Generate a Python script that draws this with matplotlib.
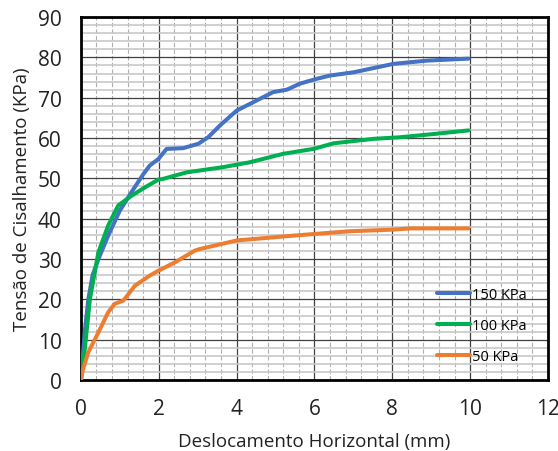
import matplotlib
matplotlib.use("Agg")
import matplotlib.pyplot as plt
from matplotlib.ticker import MultipleLocator

# curvas tensao x deslocamento
x150 = [0, 0.1, 0.19, 0.3, 0.45, 0.7, 1.0, 1.3, 1.6, 1.77, 1.99, 2.2, 2.63, 3.02, 3.27, 3.57, 4.0,
        4.43, 4.94, 5.29, 5.63, 6.06, 6.4, 7.0, 8.03, 8.89, 9.96]
y150 = [0, 12, 20, 26, 30, 35.8, 42, 46.6, 51, 53.2, 54.8, 57.3, 57.5, 58.6, 60.2, 63.1, 66.8,
        68.9, 71.4, 72.0, 73.5, 74.7, 75.5, 76.3, 78.4, 79.2, 79.7]

x100 = [0, 0.1, 0.23, 0.45, 0.7, 0.96, 1.3, 1.65, 1.99, 2.12, 2.72, 3.66, 4.34, 5.2, 5.97, 6.49,
        7.51, 8.2, 9.06, 9.96]
y100 = [0, 7.7, 20, 31.7, 38.3, 43.3, 45.7, 47.8, 49.7, 49.9, 51.5, 52.8, 54.0, 56.1, 57.3, 58.7,
        59.8, 60.2, 61.0, 61.9]

x50 = [0, 0.05, 0.19, 0.45, 0.7, 0.87, 1.09, 1.39, 1.77, 1.99, 2.42, 2.93, 3.06, 4.0, 5.2, 5.97,
       6.92, 8.03, 8.46, 9.96]
y50 = [0, 2.5, 6.9, 11.8, 16.8, 18.9, 19.7, 23.4, 25.9, 27.1, 29.2, 32.1, 32.5, 34.6, 35.6, 36.2,
       36.9, 37.3, 37.6, 37.6]

plt.rcParams['font.family'] = ['Open Sans', 'DejaVu Sans']

fig = plt.figure(figsize=(5.58, 4.52), dpi=100)
ax = fig.add_axes([0.145, 0.157, 0.837, 0.803])

ax.plot(x150, y150, color='#4472C4', lw=2.9, label='150 KPa', solid_capstyle='round', zorder=3)
ax.plot(x100, y100, color='#00B050', lw=2.9, label='100 KPa', solid_capstyle='round', zorder=3)
ax.plot(x50, y50, color='#ED7D31', lw=2.9, label='50 KPa', solid_capstyle='round', zorder=3)

ax.set_xlim(0, 12)
ax.set_ylim(0, 90)
ax.xaxis.set_major_locator(MultipleLocator(2))
ax.xaxis.set_minor_locator(MultipleLocator(0.4))
ax.yaxis.set_major_locator(MultipleLocator(10))
ax.yaxis.set_minor_locator(MultipleLocator(2))

# grade
ax.grid(which='major', color='#404040', lw=0.9)
ax.xaxis.grid(which='minor', color='#b0b0b0', lw=0.8, ls=(0, (4, 2)))
ax.yaxis.grid(which='minor', color='#c8c8c8', lw=1.2)
ax.set_axisbelow(True)

for s in ax.spines.values():
    s.set_linewidth(2)
    s.set_color('black')

ax.tick_params(which='both', length=0, labelsize=15, colors='#222222')
ax.tick_params(axis='x', pad=13)
ax.tick_params(axis='y', pad=14)

ax.set_xlabel('Deslocamento Horizontal (mm)', fontsize=13.5, labelpad=9, color='#222222')
ax.set_ylabel('Tensão de Cisalhamento (KPa)', fontsize=13.5, labelpad=5, color='#222222')

ax.legend(loc='lower left', bbox_to_anchor=(0.762, 0.045), frameon=False, fontsize=10.5,
          handlelength=2.3, handletextpad=0.1, labelspacing=1.1, borderpad=0, borderaxespad=0)

fig.savefig('out.png', dpi=100)
